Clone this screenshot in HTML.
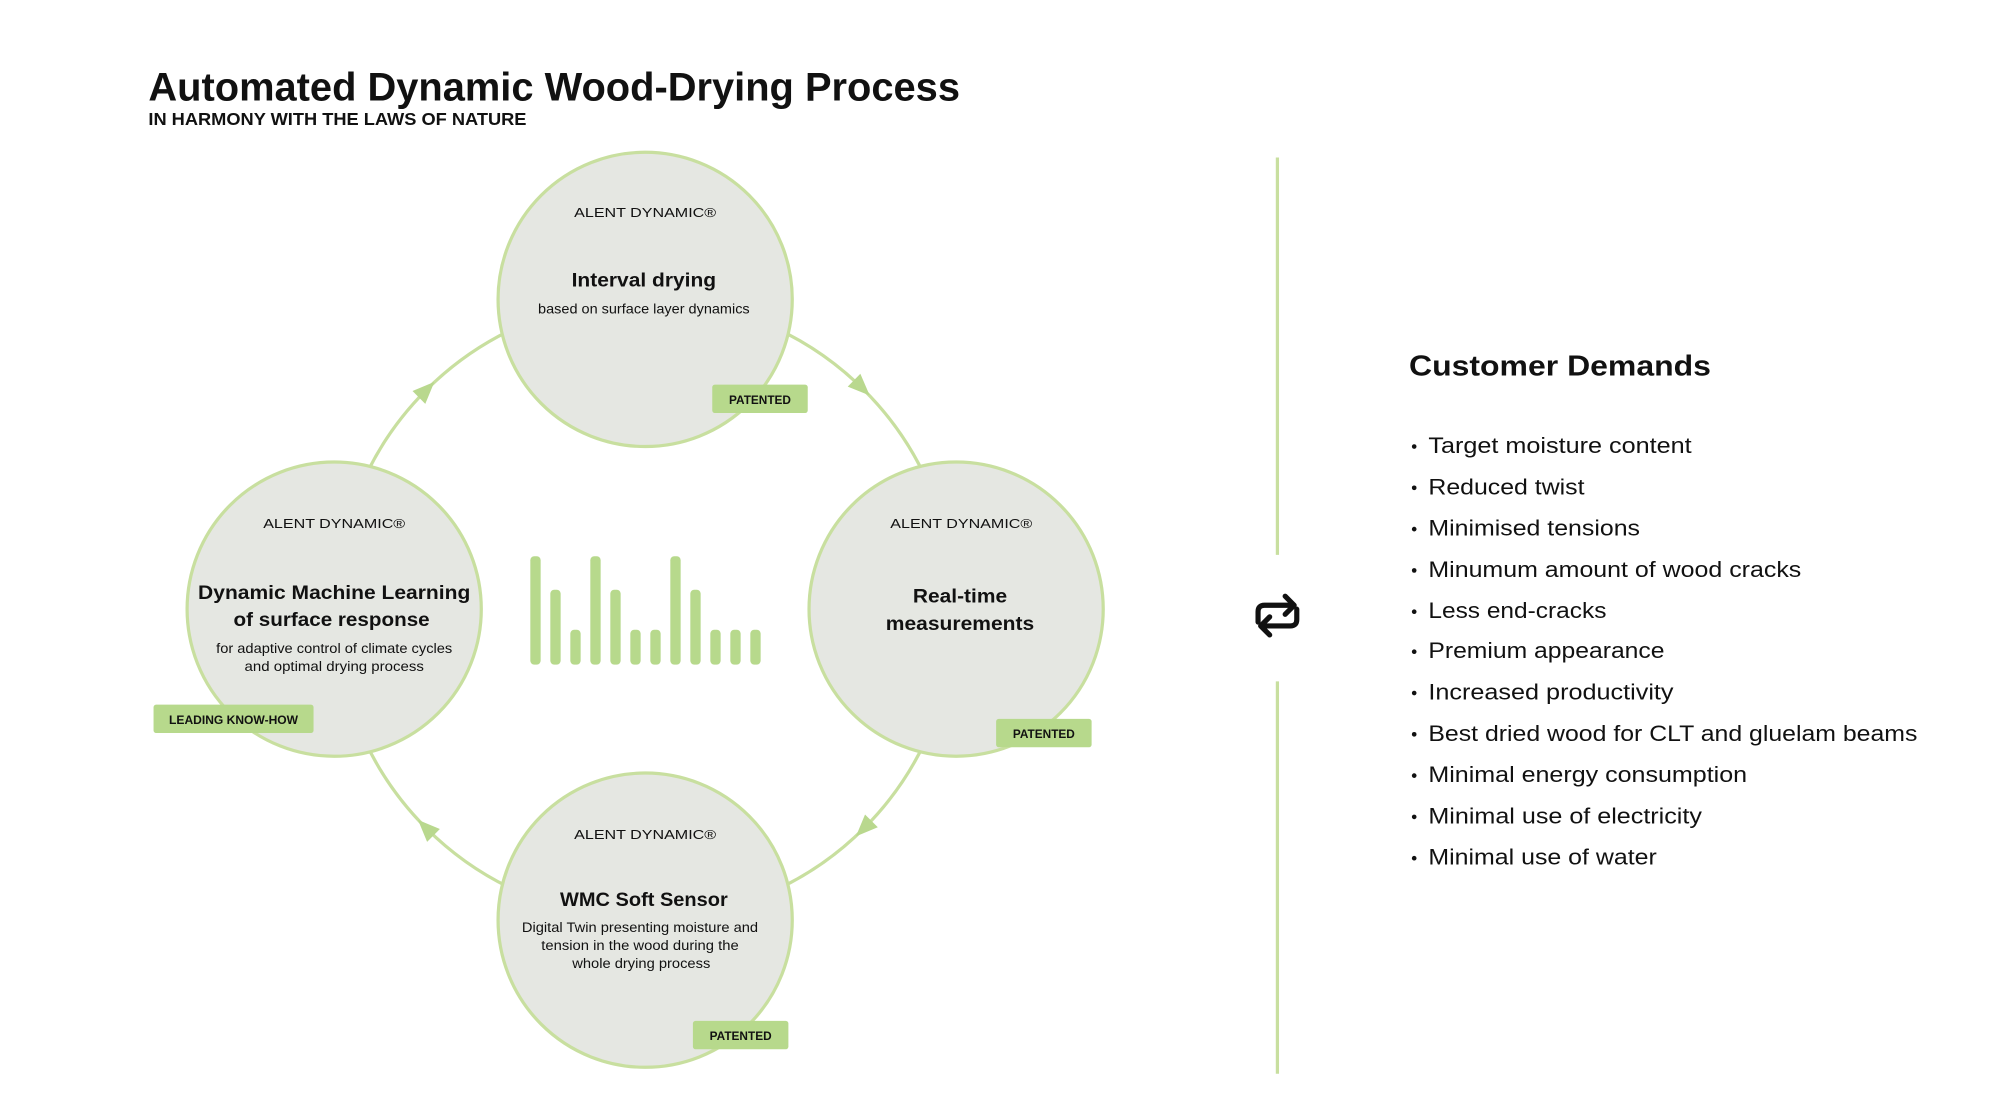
<!DOCTYPE html>
<html><head><meta charset="utf-8"><style>
html,body{margin:0;padding:0;background:#fff;}
svg{display:block;}
text{font-family:"Liberation Sans",sans-serif;fill:#111;}
</style></head><body>
<svg width="2000" height="1106" viewBox="0 0 1550 857" preserveAspectRatio="none" xmlns="http://www.w3.org/2000/svg">
<rect width="1550" height="857" fill="#fff"/>
<text x="115" y="78" font-size="31" font-weight="bold" textLength="629" lengthAdjust="spacingAndGlyphs">Automated Dynamic Wood-Drying Process</text>
<text x="115" y="97" font-size="13.5" font-weight="bold" textLength="293" lengthAdjust="spacingAndGlyphs">IN HARMONY WITH THE LAWS OF NATURE</text>

<!-- ring -->
<circle cx="500" cy="472" r="240" fill="none" stroke="#c8df9f" stroke-width="2.5"/>
<g fill="#b9d88e">
<polygon points="9,0 -8,-7 -8,7" transform="translate(667.6,300.2) rotate(44.3)"/>
<polygon points="9,0 -8,-7 -8,7" transform="translate(669.7,641.7) rotate(135)"/>
<polygon points="9,0 -8,-7 -8,7" transform="translate(330.3,641.7) rotate(225)"/>
<polygon points="9,0 -8,-7 -8,7" transform="translate(330.3,302.3) rotate(315)"/>
</g>

<g fill="#e5e7e2" stroke="#c8df9f" stroke-width="2.5">
<circle cx="500" cy="232" r="114"/>
<circle cx="259" cy="472" r="114"/>
<circle cx="741" cy="472" r="114"/>
<circle cx="500" cy="713" r="114"/>
</g>

<!-- bars -->
<g fill="#b7d98c">
<rect x="411" y="431" width="8" height="84" rx="3"/>
<rect x="426.5" y="457" width="8" height="58" rx="3"/>
<rect x="442" y="488" width="8" height="27" rx="3"/>
<rect x="457.5" y="431" width="8" height="84" rx="3"/>
<rect x="473" y="457" width="8" height="58" rx="3"/>
<rect x="488.5" y="488" width="8" height="27" rx="3"/>
<rect x="504" y="488" width="8" height="27" rx="3"/>
<rect x="519.5" y="431" width="8" height="84" rx="3"/>
<rect x="535" y="457" width="8" height="58" rx="3"/>
<rect x="550.5" y="488" width="8" height="27" rx="3"/>
<rect x="566" y="488" width="8" height="27" rx="3"/>
<rect x="581.5" y="488" width="8" height="27" rx="3"/>
</g>

<!-- top circle -->
<text x="500" y="168" font-size="10" text-anchor="middle" textLength="110" lengthAdjust="spacingAndGlyphs">ALENT DYNAMIC®</text>
<text x="499" y="222" font-size="15" font-weight="bold" text-anchor="middle" textLength="112" lengthAdjust="spacingAndGlyphs">Interval drying</text>
<text x="499" y="243" font-size="10.5" text-anchor="middle" textLength="164" lengthAdjust="spacingAndGlyphs">based on surface layer dynamics</text>
<rect x="552" y="298" width="74" height="22" rx="2" fill="#b7d98c"/>
<text x="589" y="313" font-size="9" font-weight="bold" text-anchor="middle" textLength="48" lengthAdjust="spacingAndGlyphs">PATENTED</text>

<!-- left -->
<text x="259" y="409" font-size="10" text-anchor="middle" textLength="110" lengthAdjust="spacingAndGlyphs">ALENT DYNAMIC®</text>
<text x="259" y="464" font-size="15" font-weight="bold" text-anchor="middle" textLength="211" lengthAdjust="spacingAndGlyphs">Dynamic Machine Learning</text>
<text x="257" y="485" font-size="15" font-weight="bold" text-anchor="middle" textLength="152" lengthAdjust="spacingAndGlyphs">of surface response</text>
<text x="259" y="506" font-size="10.5" text-anchor="middle" textLength="183" lengthAdjust="spacingAndGlyphs">for adaptive control of climate cycles</text>
<text x="259" y="520" font-size="10.5" text-anchor="middle" textLength="139" lengthAdjust="spacingAndGlyphs">and  optimal drying process</text>
<rect x="119" y="546" width="124" height="22" rx="2" fill="#b7d98c"/>
<text x="181" y="561" font-size="9" font-weight="bold" text-anchor="middle" textLength="100" lengthAdjust="spacingAndGlyphs">LEADING KNOW-HOW</text>

<!-- right -->
<text x="745" y="409" font-size="10" text-anchor="middle" textLength="110" lengthAdjust="spacingAndGlyphs">ALENT DYNAMIC®</text>
<text x="744" y="467" font-size="15" font-weight="bold" text-anchor="middle" textLength="73" lengthAdjust="spacingAndGlyphs">Real-time</text>
<text x="744" y="488" font-size="15" font-weight="bold" text-anchor="middle" textLength="115" lengthAdjust="spacingAndGlyphs">measurements</text>
<rect x="772" y="557" width="74" height="22" rx="2" fill="#b7d98c"/>
<text x="809" y="572" font-size="9" font-weight="bold" text-anchor="middle" textLength="48" lengthAdjust="spacingAndGlyphs">PATENTED</text>

<!-- bottom -->
<text x="500" y="650" font-size="10" text-anchor="middle" textLength="110" lengthAdjust="spacingAndGlyphs">ALENT DYNAMIC®</text>
<text x="499" y="702" font-size="15" font-weight="bold" text-anchor="middle" textLength="130" lengthAdjust="spacingAndGlyphs">WMC Soft Sensor</text>
<text x="496" y="722" font-size="10.5" text-anchor="middle" textLength="183" lengthAdjust="spacingAndGlyphs">Digital Twin presenting moisture and</text>
<text x="496" y="736" font-size="10.5" text-anchor="middle" textLength="153" lengthAdjust="spacingAndGlyphs">tension in the wood during the</text>
<text x="497" y="750" font-size="10.5" text-anchor="middle" textLength="107" lengthAdjust="spacingAndGlyphs">whole drying process</text>
<rect x="537" y="791" width="74" height="22" rx="2" fill="#b7d98c"/>
<text x="574" y="806" font-size="9" font-weight="bold" text-anchor="middle" textLength="48" lengthAdjust="spacingAndGlyphs">PATENTED</text>

<!-- divider -->
<line x1="990" y1="122" x2="990" y2="430" stroke="#c8df9f" stroke-width="2.5"/>
<line x1="990" y1="528" x2="990" y2="832" stroke="#c8df9f" stroke-width="2.5"/>
<g transform="translate(990,477)" fill="none" stroke="#111" stroke-width="4" stroke-linecap="round" stroke-linejoin="round">
<path d="M -15 5 L -15 -3 Q -15 -8 -10 -8 L 12 -8"/>
<path d="M 6 -15 L 13 -8 L 6 -1"/>
<path d="M 15 -5 L 15 3 Q 15 8 10 8 L -12 8"/>
<path d="M -6 15 L -13 8 L -6 1"/>
</g>

<!-- customer demands -->
<text x="1092" y="291" font-size="22" font-weight="bold" textLength="234" lengthAdjust="spacingAndGlyphs">Customer Demands</text>
<g font-size="17.5">
<circle cx="1096" cy="346" r="1.8" fill="#111"/><text x="1107" y="351" textLength="204" lengthAdjust="spacingAndGlyphs">Target moisture content</text>
<circle cx="1096" cy="378" r="1.8" fill="#111"/><text x="1107" y="383" textLength="121" lengthAdjust="spacingAndGlyphs">Reduced twist</text>
<circle cx="1096" cy="410" r="1.8" fill="#111"/><text x="1107" y="415" textLength="164" lengthAdjust="spacingAndGlyphs">Minimised tensions</text>
<circle cx="1096" cy="442" r="1.8" fill="#111"/><text x="1107" y="447" textLength="289" lengthAdjust="spacingAndGlyphs">Minumum amount of wood cracks</text>
<circle cx="1096" cy="474" r="1.8" fill="#111"/><text x="1107" y="479" textLength="138" lengthAdjust="spacingAndGlyphs">Less end-cracks</text>
<circle cx="1096" cy="505" r="1.8" fill="#111"/><text x="1107" y="510" textLength="183" lengthAdjust="spacingAndGlyphs">Premium appearance</text>
<circle cx="1096" cy="537" r="1.8" fill="#111"/><text x="1107" y="542" textLength="190" lengthAdjust="spacingAndGlyphs">Increased productivity</text>
<circle cx="1096" cy="569" r="1.8" fill="#111"/><text x="1107" y="574" textLength="379" lengthAdjust="spacingAndGlyphs">Best dried wood for CLT and gluelam beams</text>
<circle cx="1096" cy="601" r="1.8" fill="#111"/><text x="1107" y="606" textLength="247" lengthAdjust="spacingAndGlyphs">Minimal energy consumption</text>
<circle cx="1096" cy="633" r="1.8" fill="#111"/><text x="1107" y="638" textLength="212" lengthAdjust="spacingAndGlyphs">Minimal use of electricity</text>
<circle cx="1096" cy="665" r="1.8" fill="#111"/><text x="1107" y="670" textLength="177" lengthAdjust="spacingAndGlyphs">Minimal use of water</text>
</g>
</svg>
</body></html>
